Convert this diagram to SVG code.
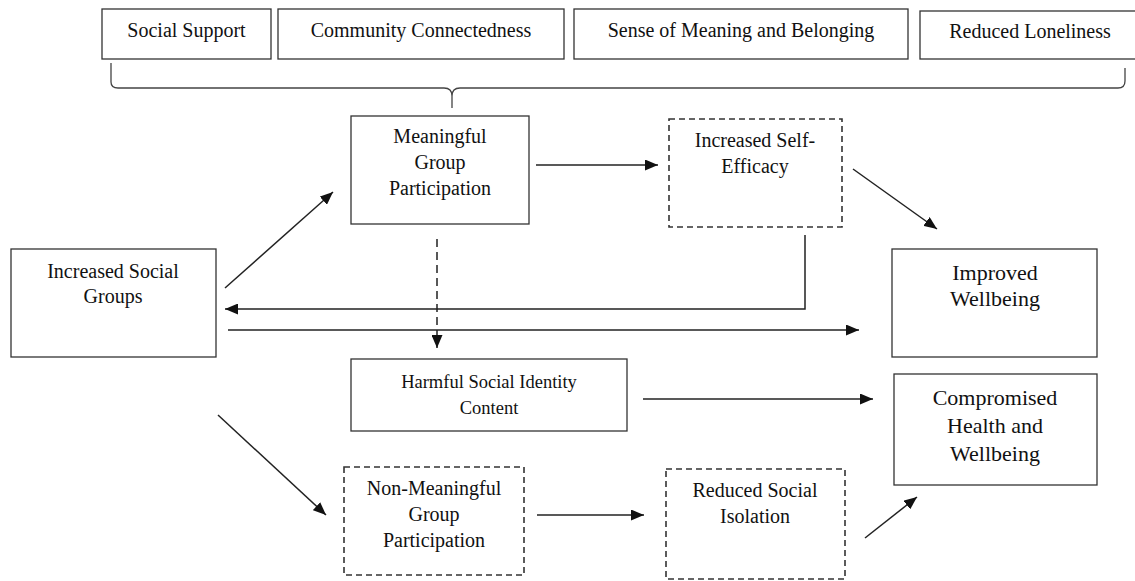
<svg xmlns="http://www.w3.org/2000/svg" width="1135" height="581" viewBox="0 0 1135 581" font-family="Liberation Serif, Times New Roman, serif">
  <style>
    .box { fill: #fff; stroke: #333; stroke-width: 1.3; }
    .dash { fill: #fff; stroke: #333; stroke-width: 1.6; stroke-dasharray: 6 4; }
    .lbl { font-size: 20px; fill: #111; text-anchor: middle; }
    .big { font-size: 22px; }
    .sm { font-size: 18.5px; }
    .conn { fill: none; stroke: #222; stroke-width: 1.5; }
    .arrow { marker-end: url(#head); }
    .dashed { stroke-dasharray: 8 5; }
  </style>
  <defs>
    <marker id="head" markerUnits="userSpaceOnUse" markerWidth="13" markerHeight="11" refX="13" refY="5.5" orient="auto">
      <path d="M0,0 L13,5.5 L0,11 z" fill="#111"/>
    </marker>
  </defs>
  <rect width="1135" height="581" fill="#fff"/>

  <!-- outcome headers -->
  <g id="social-support">
    <rect class="box" x="102" y="9" width="169" height="50"/>
    <text class="lbl" x="186.5" y="37">Social Support</text>
  </g>
  <g id="community-connectedness">
    <rect class="box" x="278" y="9" width="286" height="50"/>
    <text class="lbl" x="421" y="37">Community Connectedness</text>
  </g>
  <g id="sense-of-meaning">
    <rect class="box" x="574" y="9" width="334" height="50"/>
    <text class="lbl" x="741" y="37">Sense of Meaning and Belonging</text>
  </g>
  <g id="reduced-loneliness">
    <rect class="box" x="920" y="11" width="220" height="48"/>
    <text class="lbl" x="1030" y="38">Reduced Loneliness</text>
  </g>

  <!-- brace grouping the headers -->
  <g id="brace">
    <path class="conn" style="stroke:#444;stroke-width:1.3" d="M111,63 V82 Q111,88 118,88 H444 Q452,88 452,96 V108 M452,96 Q452,88 460,88 H1118 Q1125,88 1125,81 V68"/>
  </g>

  <g id="increased-social-groups">
    <rect class="box" x="11" y="249" width="205" height="108"/>
    <text class="lbl" x="113" y="278">Increased Social</text>
    <text class="lbl" x="113" y="303">Groups</text>
  </g>
  <g id="meaningful-participation">
    <rect class="box" x="351" y="116" width="178" height="108"/>
    <text class="lbl" x="440" y="143">Meaningful</text>
    <text class="lbl" x="440" y="169">Group</text>
    <text class="lbl" x="440" y="195">Participation</text>
  </g>
  <g id="self-efficacy">
    <rect class="dash" x="669" y="119" width="173" height="108"/>
    <text class="lbl" x="755" y="147">Increased Self-</text>
    <text class="lbl" x="755" y="173">Efficacy</text>
  </g>
  <g id="improved-wellbeing">
    <rect class="box" x="892" y="249" width="205" height="108"/>
    <text class="lbl big" x="995" y="280">Improved</text>
    <text class="lbl big" x="995" y="306">Wellbeing</text>
  </g>
  <g id="harmful-identity">
    <rect class="box" x="351" y="359" width="276" height="72"/>
    <text class="lbl sm" x="489" y="388">Harmful Social Identity</text>
    <text class="lbl sm" x="489" y="414">Content</text>
  </g>
  <g id="compromised-health">
    <rect class="box" x="894" y="374" width="203" height="111"/>
    <text class="lbl big" x="995" y="405">Compromised</text>
    <text class="lbl big" x="995" y="433">Health and</text>
    <text class="lbl big" x="995" y="461">Wellbeing</text>
  </g>
  <g id="non-meaningful-participation">
    <rect class="dash" x="344" y="467" width="180" height="108"/>
    <text class="lbl" x="434" y="495">Non-Meaningful</text>
    <text class="lbl" x="434" y="521">Group</text>
    <text class="lbl" x="434" y="547">Participation</text>
  </g>
  <g id="reduced-isolation">
    <rect class="dash" x="666" y="469" width="179" height="110"/>
    <text class="lbl" x="755" y="497">Reduced Social</text>
    <text class="lbl" x="755" y="523">Isolation</text>
  </g>

  <g id="connectors">
    <line class="conn arrow" x1="225" y1="288" x2="333" y2="192"/>
    <line class="conn arrow" x1="536" y1="165" x2="658" y2="165"/>
    <line class="conn arrow" x1="853" y1="169" x2="937" y2="229"/>
    <path class="conn arrow" d="M805,235 V309 H225"/>
    <line class="conn arrow" x1="228" y1="330" x2="859" y2="330"/>
    <line class="conn arrow dashed" x1="437" y1="239" x2="437" y2="348"/>
    <line class="conn arrow" x1="643" y1="399" x2="873" y2="399"/>
    <line class="conn arrow" x1="218" y1="415" x2="326" y2="515"/>
    <line class="conn arrow" x1="537" y1="515" x2="644" y2="515"/>
    <line class="conn arrow" x1="865" y1="538" x2="917" y2="497"/>
  </g>
</svg>
